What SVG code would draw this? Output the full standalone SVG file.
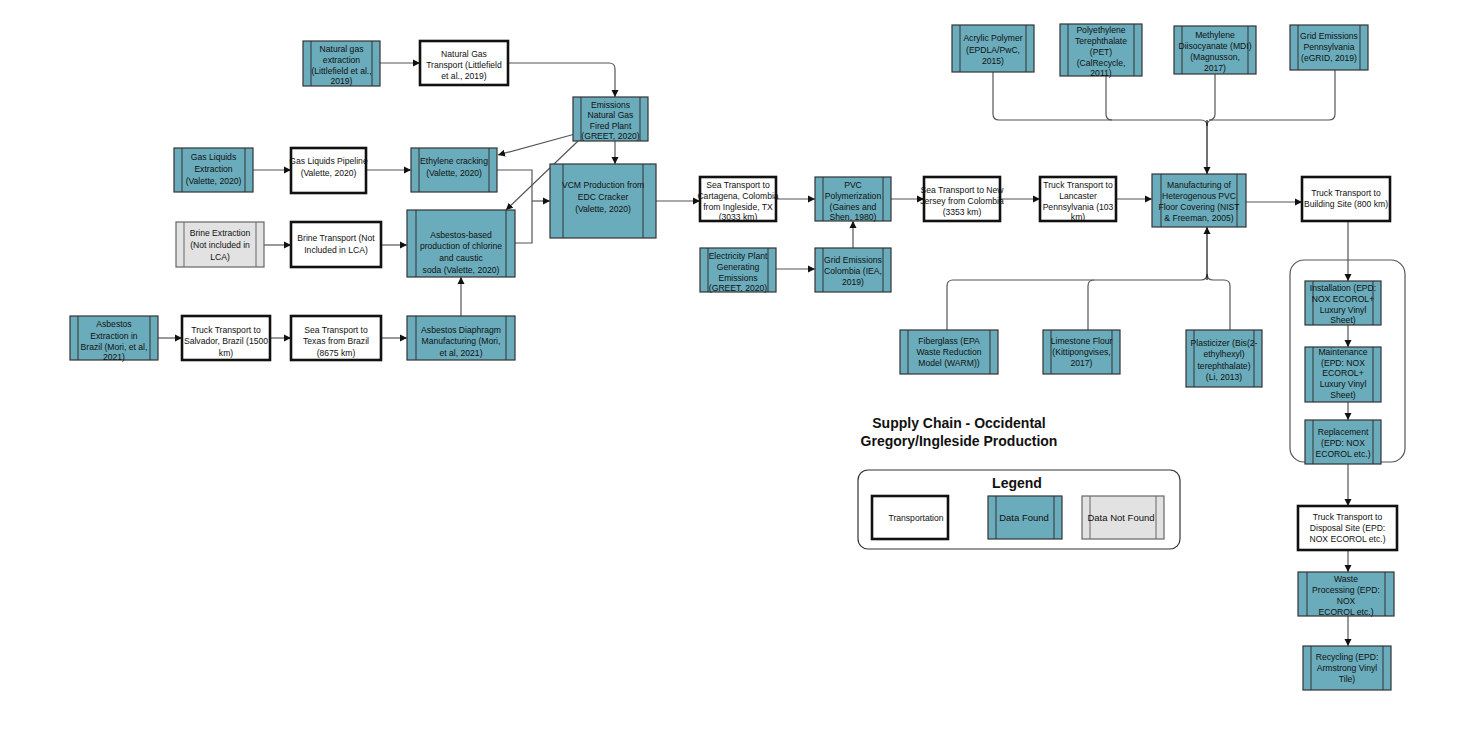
<svg xmlns="http://www.w3.org/2000/svg" width="1477" height="738" viewBox="0 0 1477 738">
<defs>
<marker id="ah" markerWidth="8" markerHeight="8" refX="7" refY="4" orient="auto" markerUnits="userSpaceOnUse"><path d="M0,0.5 L7,4 L0,7.5 Z" fill="#111"/></marker>
<style>
text{font-family:"Liberation Sans",Arial,sans-serif;font-size:8.6px;fill:#111;text-anchor:middle}
.d{fill:#6aacbb;stroke:#333;stroke-width:1.2}
.g{fill:#e2e2e2;stroke:#666;stroke-width:1.2}
.il{stroke:#333;stroke-width:1}
.t{fill:#fff;stroke:#111;stroke-width:2.6}
.c{fill:none;stroke:#555;stroke-width:1.2;marker-end:url(#ah)}
.n{fill:none;stroke:#555;stroke-width:1.2}
.h{font-size:14px;font-weight:bold}
</style>
</defs>
<rect width="1477" height="738" fill="#fff"/>
<g id="connectors">
<path class="c" d="M380,63H420"/>
<path class="c" d="M508,63H609Q615,63 615,69V97"/>
<path class="c" d="M615,141V164"/>
<path class="c" d="M575,134L498,155"/>
<path class="c" d="M578,141L506,210"/>
<path class="c" d="M253,170H291"/>
<path class="c" d="M366,170H411"/>
<path class="n" d="M497,170H532V243H515"/>
<path class="c" d="M532,201H550"/>
<path class="c" d="M264,245H291"/>
<path class="c" d="M381,245H407"/>
<path class="c" d="M158,338H182"/>
<path class="c" d="M270,338H291"/>
<path class="c" d="M381,338H407"/>
<path class="c" d="M461,316V277"/>
<path class="c" d="M656,201H700"/>
<path class="c" d="M776,199H815"/>
<path class="c" d="M891,199H924"/>
<path class="c" d="M1000,199H1040"/>
<path class="c" d="M1116,199H1152"/>
<path class="c" d="M1246,202H1302"/>
<path class="c" d="M776,269H815"/>
<path class="c" d="M853,248V221"/>
<path class="n" d="M993,72V114Q993,120 999,120H1201Q1207,120 1207,126"/>
<path class="n" d="M1106,76V114Q1106,120 1112,120"/>
<path class="n" d="M1215,74V114Q1215,120 1209,120"/>
<path class="n" d="M1335,70V114Q1335,120 1329,120H1213Q1207,120 1207,126"/>
<path class="c" d="M1207,120V174" style="stroke:#111"/>
<path class="n" d="M947,330V286Q947,280 953,280H1201Q1207,280 1207,274"/>
<path class="n" d="M1088,330V286Q1088,280 1094,280"/>
<path class="n" d="M1230,330V286Q1230,280 1224,280H1213Q1207,280 1207,274"/>
<path class="c" d="M1207,280V227" style="stroke:#111"/>
<path class="c" d="M1348,221V281"/>
<path class="c" d="M1348,325V347"/>
<path class="c" d="M1348,402V420"/>
<path class="c" d="M1348,464V506"/>
<path class="c" d="M1348,550V572"/>
<path class="c" d="M1348,616V646"/>
</g>
<rect x="1290" y="260" width="115" height="202" rx="14" fill="none" stroke="#555" stroke-width="1.2"/>
<g id="ng_extraction"><rect class="d" x="303" y="41" width="77" height="45"/><path class="il" d="M311,41V86M372,41V86"/><text x="341.5" y="52">Natural gas</text><text x="341.5" y="63">extraction</text><text x="341.5" y="74">(Littlefield et al.,</text><text x="341.5" y="84">2019)</text></g>
<g id="ng_transport"><rect class="t" x="420" y="41" width="88" height="44"/><text x="464" y="57">Natural Gas</text><text x="464" y="68">Transport (Littlefield</text><text x="464" y="79">et al., 2019)</text></g>
<g id="emissions_ng"><rect class="d" x="573" y="97" width="75" height="44"/><path class="il" d="M581,97V141M640,97V141"/><text x="610.5" y="108">Emissions</text><text x="610.5" y="118">Natural Gas</text><text x="610.5" y="129">Fired Plant</text><text x="610.5" y="139">(GREET, 2020)</text></g>
<g id="gas_liquids_ext"><rect class="d" x="174" y="148" width="79" height="44"/><path class="il" d="M182,148V192M245,148V192"/><text x="213.5" y="160">Gas Liquids</text><text x="213.5" y="172">Extraction</text><text x="213.5" y="184">(Valette, 2020)</text></g>
<g id="gas_liquids_pipe"><rect class="t" x="291" y="148" width="75" height="45"/><text x="328.5" y="164">Gas Liquids Pipeline</text><text x="328.5" y="176">(Valette, 2020)</text></g>
<g id="ethylene"><rect class="d" x="411" y="148" width="86" height="44"/><path class="il" d="M419,148V192M489,148V192"/><text x="454" y="164">Ethylene cracking</text><text x="454" y="176">(Valette, 2020)</text></g>
<g id="vcm"><rect class="d" x="550" y="164" width="106" height="74"/><path class="il" d="M563,164V238M643,164V238"/><text x="603" y="188">VCM Production from</text><text x="603" y="200">EDC Cracker</text><text x="603" y="212">(Valette, 2020)</text></g>
<g id="brine_ext"><rect class="g" x="176" y="222" width="88" height="45"/><path class="il" d="M184,222V267M256,222V267" style="stroke:#666"/><text x="220" y="236">Brine Extraction</text><text x="220" y="248">(Not included in</text><text x="220" y="260">LCA)</text></g>
<g id="brine_transport"><rect class="t" x="291" y="222" width="90" height="45"/><text x="336" y="241">Brine Transport (Not</text><text x="336" y="253">Included in LCA)</text></g>
<g id="asbestos_based"><rect class="d" x="407" y="210" width="108" height="67"/><path class="il" d="M416,210V277M506,210V277"/><text x="461" y="238">Asbestos-based</text><text x="461" y="249">production of chlorine</text><text x="461" y="261">and caustic</text><text x="461" y="273">soda (Valette, 2020)</text></g>
<g id="asbestos_ext"><rect class="d" x="70" y="316" width="88" height="44"/><path class="il" d="M78,316V360M150,316V360"/><text x="114" y="327">Asbestos</text><text x="114" y="339">Extraction in</text><text x="114" y="350">Brazil (Mori, et al,</text><text x="114" y="360">2021)</text></g>
<g id="truck_salvador"><rect class="t" x="182" y="316" width="88" height="44"/><text x="226" y="333">Truck Transport to</text><text x="226" y="344">Salvador, Brazil (1500</text><text x="226" y="356">km)</text></g>
<g id="sea_texas"><rect class="t" x="291" y="316" width="90" height="44"/><text x="336" y="333">Sea Transport to</text><text x="336" y="344">Texas from Brazil</text><text x="336" y="356">(8675 km)</text></g>
<g id="asbestos_diaphragm"><rect class="d" x="407" y="316" width="108" height="44"/><path class="il" d="M416,316V360M506,316V360"/><text x="461" y="333">Asbestos Diaphragm</text><text x="461" y="344">Manufacturing (Mori,</text><text x="461" y="356">et al, 2021)</text></g>
<g id="sea_cartagena"><rect class="t" x="700" y="177" width="76" height="44"/><text x="738" y="188">Sea Transport to</text><text x="738" y="199">Cartagena, Colombia</text><text x="738" y="210">from Ingleside, TX</text><text x="738" y="220">(3033 km)</text></g>
<g id="pvc_poly"><rect class="d" x="815" y="177" width="76" height="44"/><path class="il" d="M823,177V221M883,177V221"/><text x="853" y="188">PVC</text><text x="853" y="199">Polymerization</text><text x="853" y="210">(Gaines and</text><text x="853" y="220">Shen, 1980)</text></g>
<g id="sea_nj"><rect class="t" x="924" y="177" width="76" height="44"/><text x="962" y="193">Sea Transport to New</text><text x="962" y="204">Jersey from Colombia</text><text x="962" y="215">(3353 km)</text></g>
<g id="truck_lancaster"><rect class="t" x="1040" y="177" width="76" height="44"/><text x="1078" y="188">Truck Transport to</text><text x="1078" y="199">Lancaster</text><text x="1078" y="210">Pennsylvania (103</text><text x="1078" y="220">km)</text></g>
<g id="manufacturing"><rect class="d" x="1152" y="174" width="94" height="53"/><path class="il" d="M1161,174V227M1237,174V227"/><text x="1199" y="188">Manufacturing of</text><text x="1199" y="199">Heterogenous PVC</text><text x="1199" y="210">Floor Covering (NIST</text><text x="1199" y="221">&amp; Freeman, 2005)</text></g>
<g id="truck_building"><rect class="t" x="1302" y="177" width="88" height="44"/><text x="1346" y="196">Truck Transport to</text><text x="1346" y="207">Building Site (800 km)</text></g>
<g id="electricity"><rect class="d" x="700" y="248" width="76" height="44"/><path class="il" d="M708,248V292M768,248V292"/><text x="738" y="259">Electricity Plant</text><text x="738" y="270">Generating</text><text x="738" y="281">Emissions</text><text x="738" y="291">(GREET, 2020)</text></g>
<g id="grid_colombia"><rect class="d" x="815" y="248" width="76" height="44"/><path class="il" d="M823,248V292M883,248V292"/><text x="853" y="263">Grid Emissions</text><text x="853" y="274">Colombia (IEA,</text><text x="853" y="285">2019)</text></g>
<g id="acrylic"><rect class="d" x="952" y="25" width="82" height="47"/><path class="il" d="M960,25V72M1026,25V72"/><text x="993" y="41">Acrylic Polymer</text><text x="993" y="53">(EPDLA/PwC,</text><text x="993" y="64">2015)</text></g>
<g id="pet"><rect class="d" x="1060" y="24" width="82" height="52"/><path class="il" d="M1068,24V76M1134,24V76"/><text x="1101" y="33">Polyethylene</text><text x="1101" y="44">Terephthalate</text><text x="1101" y="55">(PET)</text><text x="1101" y="66">(CalRecycle,</text><text x="1101" y="76">2011)</text></g>
<g id="mdi"><rect class="d" x="1174" y="26" width="82" height="48"/><path class="il" d="M1182,26V74M1248,26V74"/><text x="1215" y="38">Methylene</text><text x="1215" y="49">Diisocyanate (MDI)</text><text x="1215" y="60">(Magnusson,</text><text x="1215" y="71">2017)</text></g>
<g id="grid_pa"><rect class="d" x="1290" y="25" width="78" height="45"/><path class="il" d="M1298,25V70M1360,25V70"/><text x="1329" y="39">Grid Emissions</text><text x="1329" y="50">Pennsylvania</text><text x="1329" y="61">(eGRID, 2019)</text></g>
<g id="fiberglass"><rect class="d" x="900" y="330" width="98" height="44"/><path class="il" d="M908,330V374M990,330V374"/><text x="949" y="344">Fiberglass (EPA</text><text x="949" y="355">Waste Reduction</text><text x="949" y="366">Model (WARM))</text></g>
<g id="limestone"><rect class="d" x="1043" y="330" width="77" height="44"/><path class="il" d="M1051,330V374M1112,330V374"/><text x="1081.5" y="344">Limestone Flour</text><text x="1081.5" y="355">(Kittipongvises,</text><text x="1081.5" y="366">2017)</text></g>
<g id="plasticizer"><rect class="d" x="1186" y="330" width="76" height="57"/><path class="il" d="M1194,330V387M1254,330V387"/><text x="1224" y="346">Plasticizer (Bis(2-</text><text x="1224" y="357">ethylhexyl)</text><text x="1224" y="369">terephthalate)</text><text x="1224" y="380">(Li, 2013)</text></g>
<g id="installation"><rect class="d" x="1305" y="281" width="76" height="44"/><path class="il" d="M1313,281V325M1373,281V325"/><text x="1343" y="291">Installation (EPD:</text><text x="1343" y="302">NOX ECOROL+</text><text x="1343" y="313">Luxury Vinyl</text><text x="1343" y="323">Sheet)</text></g>
<g id="maintenance"><rect class="d" x="1305" y="347" width="76" height="55"/><path class="il" d="M1313,347V402M1373,347V402"/><text x="1343" y="355">Maintenance</text><text x="1343" y="366">(EPD: NOX</text><text x="1343" y="376">ECOROL+</text><text x="1343" y="387">Luxury Vinyl</text><text x="1343" y="398">Sheet)</text></g>
<g id="replacement"><rect class="d" x="1305" y="420" width="76" height="44"/><path class="il" d="M1313,420V464M1373,420V464"/><text x="1343" y="435">Replacement</text><text x="1343" y="446">(EPD: NOX</text><text x="1343" y="457">ECOROL etc.)</text></g>
<g id="truck_disposal"><rect class="t" x="1298" y="506" width="99" height="44"/><text x="1347.5" y="520">Truck Transport to</text><text x="1347.5" y="531">Disposal Site (EPD:</text><text x="1347.5" y="542">NOX ECOROL etc.)</text></g>
<g id="waste"><rect class="d" x="1298" y="572" width="96" height="44"/><path class="il" d="M1307,572V616M1385,572V616"/><text x="1346" y="582">Waste</text><text x="1346" y="593">Processing (EPD:</text><text x="1346" y="604">NOX</text><text x="1346" y="615">ECOROL etc.)</text></g>
<g id="recycling"><rect class="d" x="1303" y="646" width="88" height="44"/><path class="il" d="M1311,646V690M1383,646V690"/><text x="1347" y="660">Recycling (EPD:</text><text x="1347" y="671">Armstrong Vinyl</text><text x="1347" y="682">Tile)</text></g>
<g id="title"><text class="h" x="959" y="428">Supply Chain - Occidental</text><text class="h" x="959" y="446">Gregory/Ingleside Production</text></g>
<g id="legend">
<rect x="858" y="470" width="322" height="79" rx="10" fill="#fff" stroke="#333" stroke-width="1.2"/>
<text class="h" x="1017" y="488">Legend</text>
<rect class="t" x="872" y="496" width="76" height="43"/><text x="916" y="521">Transportation</text>
<rect class="d" x="988" y="496" width="74" height="43"/><path class="il" d="M996,496V539M1054,496V539"/><text x="1024" y="521" style="font-size:9.5px">Data Found</text>
<rect class="g" x="1082" y="496" width="82" height="43"/><path class="il" d="M1090,496V539M1156,496V539" style="stroke:#666"/><text x="1121" y="521" style="font-size:9.5px">Data Not Found</text>
</g>
</svg>
